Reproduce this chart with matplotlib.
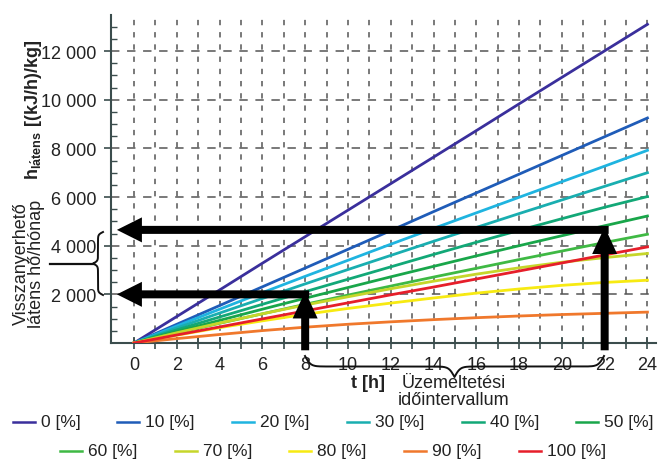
import matplotlib

matplotlib.use("Agg")
import matplotlib.pyplot as plt
import numpy as np
from matplotlib.lines import Line2D
from matplotlib.patches import FancyArrow
from matplotlib.ticker import FixedLocator, FuncFormatter

W, H = 659, 460

# operating time [h]
hours = [0, 2, 4, 6, 8, 10, 12, 14, 16, 18, 20, 22, 24]

# recoverable latent heat per relative humidity [(kJ/h)/kg]
rh_0 = [0, 1090, 2180, 3280, 4370, 5460, 6550, 7640, 8730, 9830, 10920, 12010, 13100]
rh_10 = [0, 770, 1540, 2310, 3080, 3850, 4620, 5400, 6170, 6940, 7710, 8480, 9250]
rh_20 = [0, 700, 1390, 2070, 2740, 3400, 4060, 4710, 5350, 5990, 6630, 7270, 7920]
rh_30 = [0, 620, 1230, 1830, 2430, 3020, 3600, 4180, 4750, 5320, 5880, 6440, 7000]
rh_40 = [0, 540, 1070, 1590, 2110, 2620, 3130, 3640, 4140, 4630, 5110, 5580, 6020]
rh_50 = [0, 470, 930, 1390, 1840, 2280, 2720, 3150, 3580, 4000, 4410, 4820, 5220]
rh_60 = [0, 410, 810, 1200, 1590, 1970, 2340, 2710, 3070, 3430, 3780, 4130, 4470]
rh_70 = [0, 420, 820, 1200, 1560, 1900, 2230, 2540, 2830, 3090, 3320, 3510, 3680]
rh_80 = [0, 320, 630, 910, 1180, 1420, 1640, 1850, 2050, 2220, 2370, 2490, 2580]
rh_90 = [0, 180, 350, 510, 650, 770, 870, 960, 1040, 1110, 1170, 1220, 1270]
rh_100 = [0, 330, 660, 990, 1320, 1650, 1980, 2300, 2630, 2960, 3290, 3620, 3950]

series = [rh_0, rh_10, rh_20, rh_30, rh_40, rh_50, rh_60, rh_70, rh_80, rh_90, rh_100]
labels = ["0 [%]", "10 [%]", "20 [%]", "30 [%]", "40 [%]", "50 [%]",
          "60 [%]", "70 [%]", "80 [%]", "90 [%]", "100 [%]"]
colors = ["#3a2f9c", "#1f5cb8", "#1fb4e0", "#19aeb0", "#12a877", "#19a64a",
          "#3fb944", "#c6d62a", "#f7ea12", "#f0782c", "#e61e2a"]

# operating interval and the read-off heat levels
op_start, op_end = 8, 22
level_low, level_high = 2000, 4650

y_major = [2000, 4000, 6000, 8000, 10000, 12000]
x_major = list(range(0, 25, 2))
x_minor = list(range(1, 24, 2))

SPINE = "#3b4d4d"
GRID = "#555555"
TEXT = "#222222"

# legend entry positions (pixels): first row, second row
LEG_ROW1 = [13, 117, 232, 347, 462, 576]
LEG_ROW2 = [60, 175, 289, 404, 519]


def _px(x, y):
    return x / W, 1 - y / H


def _brace(fig, a0, a1, base, amp, beta, vertical=False, n=301):
    # curly brace drawn in figure pixels, cusp at the middle
    u = np.linspace(0, a1 - a0, n)
    uh = u[: n // 2 + 1]
    dh = 1 / (1 + np.exp(-beta * (uh - uh[0]))) + 1 / (1 + np.exp(-beta * (uh - uh[-1])))
    d = (np.concatenate([dh, dh[-2::-1]]) - 0.5) * amp
    if vertical:
        xs, ys = base + d, a0 + u
    else:
        xs, ys = a0 + u, base + d
    fig.add_artist(Line2D(xs / W, 1 - ys / H, transform=fig.transFigure,
                          color="#111111", lw=1.4))


def main() -> None:
    plt.rcParams["font.family"] = ["Liberation Sans", "DejaVu Sans"]
    plt.rcParams["mathtext.fontset"] = "custom"
    plt.rcParams["mathtext.rm"] = "Liberation Sans"
    plt.rcParams["mathtext.bf"] = "Liberation Sans:bold"

    fig = plt.figure(figsize=(W / 100, H / 100), dpi=100)
    ax = fig.add_axes([110.5 / W, (H - 344) / H, (656 - 110.5) / W, (344 - 15.6) / H])

    for vals, color, lab in zip(series, colors, labels):
        ax.plot(hours, vals, color=color, lw=2.0, label=lab, zorder=3)

    ax.set_xlim(-1.1, 24.4)
    ax.set_ylim(0, 13500)

    ax.xaxis.set_major_locator(FixedLocator(x_major))
    ax.xaxis.set_minor_locator(FixedLocator(x_minor))
    ax.yaxis.set_major_locator(FixedLocator(y_major))
    ax.yaxis.set_minor_locator(FixedLocator(np.arange(500, 13500, 500)))
    ax.yaxis.set_major_formatter(FuncFormatter(lambda v, _: f"{v:,.0f}".replace(",", " ")))

    for t in x_major + x_minor:
        ax.axvline(t, color=GRID, lw=1.1, dashes=(3.5, 4.5), zorder=1)
    for v in y_major:
        ax.axhline(v, color=GRID, lw=1.1, dashes=(5.5, 5), zorder=1)

    for side in ("top", "right"):
        ax.spines[side].set_visible(False)
    for side in ("left", "bottom"):
        ax.spines[side].set_color(SPINE)
        ax.spines[side].set_linewidth(1.5)

    ax.tick_params(axis="x", which="both", direction="inout", length=9, width=1.2,
                   color=SPINE, labelsize=13, pad=5, labelcolor=TEXT)
    ax.tick_params(axis="y", which="major", direction="out", length=5, width=1.2,
                   color=SPINE, labelsize=13, pad=5, labelcolor=TEXT)
    ax.tick_params(axis="y", which="minor", direction="in", length=4, width=1.0, color=SPINE)

    # arrows: operating interval -> recoverable latent heat
    px_h, px_v = 21.4, 0.0243  # pixels per hour, pixels per kJ unit
    tip_x = -0.8
    for t0, level in ((op_start, level_low), (op_end, level_high)):
        ax.add_patch(FancyArrow(t0, -300, 0, level + 120 + 300, width=8 / px_h,
                                head_width=25 / px_h, head_length=27 / px_v,
                                length_includes_head=True, color="black", lw=0,
                                clip_on=False, zorder=5))
        ax.add_patch(FancyArrow(t0 + 4 / px_h, level, tip_x - t0 - 4 / px_h, 0,
                                width=8 / px_v, head_width=25 / px_v, head_length=25 / px_h,
                                length_includes_head=True, color="black", lw=0,
                                clip_on=False, zorder=5))

    # axis titles and notes
    fig.text(*_px(29, 264), "Visszanyerhető\nlátens hő/hónap", rotation=90,
             ha="center", va="center", fontsize=13, linespacing=0.9, color=TEXT)
    fig.text(*_px(34, 110), r"$\mathbf{h_{l\acute{a}tens}}$ [(kJ/h)/kg]", rotation=90,
             ha="center", va="center", fontsize=13, fontweight="bold", color=TEXT)
    fig.text(*_px(368, 384), "t [h]", ha="center", va="center", fontsize=13,
             fontweight="bold", color=TEXT)
    fig.text(*_px(454, 384), "Üzemeltetési", ha="center", va="center", fontsize=13,
             color=TEXT)
    fig.text(*_px(454, 401), "időintervallum", ha="center", va="center", fontsize=13,
             color=TEXT)

    _brace(fig, 233, 296, 103, -10, 0.8, vertical=True)
    fig.add_artist(Line2D([50 / W, 94 / W], [1 - 265 / H, 1 - 265 / H],
                          transform=fig.transFigure, color="#111111", lw=1.6))
    _brace(fig, 305, 604, 357, 21, 0.35)

    # legend in two rows
    handles, texts = ax.get_legend_handles_labels()
    slots = [(x, 423) for x in LEG_ROW1] + [(x, 452) for x in LEG_ROW2]
    for (x0, y0), hnd, lab in zip(slots, handles, texts):
        fig.add_artist(Line2D([x0 / W, (x0 + 22) / W], [1 - y0 / H, 1 - y0 / H],
                              transform=fig.transFigure, color=hnd.get_color(), lw=1.8))
        fig.text((x0 + 28) / W, 1 - y0 / H, lab, ha="left", va="center",
                 fontsize=12.5, color=TEXT)

    fig.savefig("out.png", dpi=100)
    plt.close(fig)


if __name__ == "__main__":
    main()
